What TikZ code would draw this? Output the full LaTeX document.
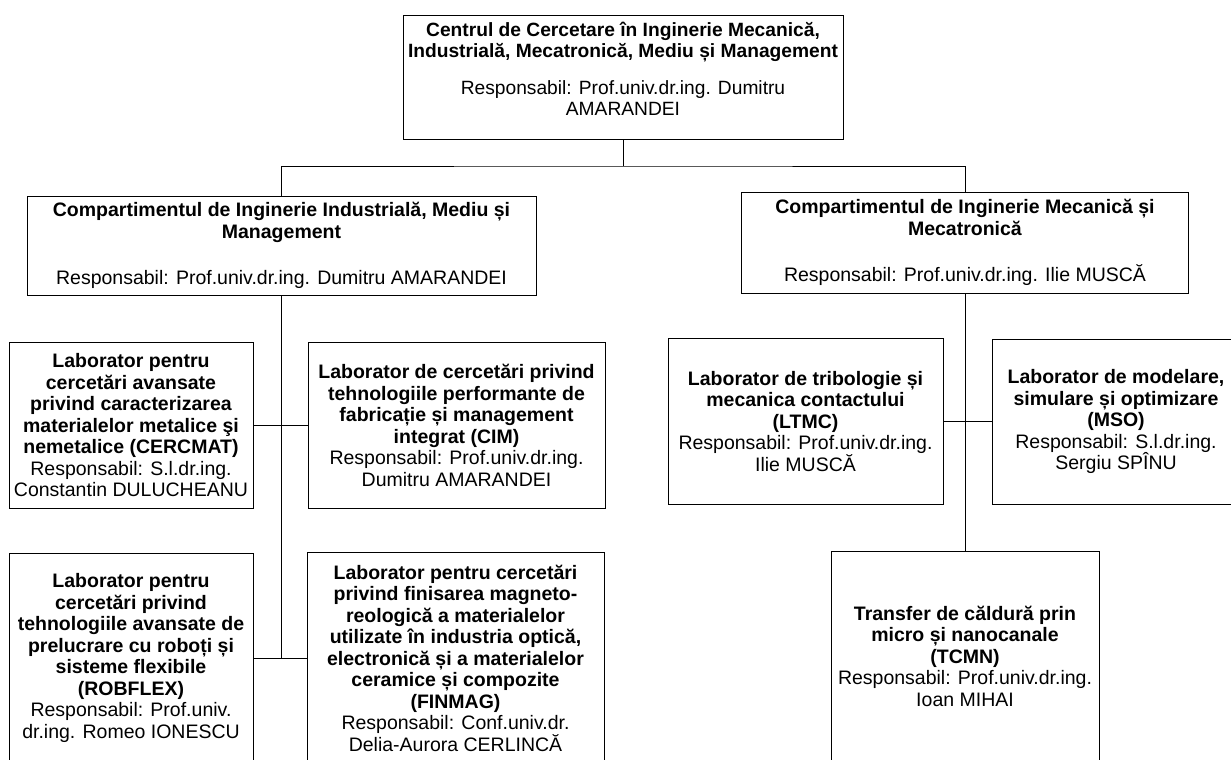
\documentclass[tikz,border=0pt]{standalone}
\usepackage{fontspec}
\setmainfont{Liberation Sans}
\usepackage{tikz}

\begin{document}
\begin{tikzpicture}[x=1pt, y=-1pt, line width=0.8pt,
	box/.style={draw, align=center, inner sep=1pt, font=\fontsize{19.5}{21.5}\selectfont}]
			\useasboundingbox (0,0) rectangle (1231,760);
			\node (top) at (623,77) [box, minimum width=440, minimum height=124, font=\fontsize{19.2}{21}\selectfont] {\textbf{Centrul de Cercetare în Inginerie Mecanică,}\\ \textbf{Industrială, Mecatronică, Mediu și Management}\\[16pt] Responsabil: Prof.univ.dr.ing. Dumitru\\ AMARANDEI\\[-5pt] \mbox{}};
			\node (indcomp) at (281.5,245.5) [box, minimum width=509, minimum height=99] {\textbf{Compartimentul de Inginerie Industrială, Mediu și}\\ \textbf{Management}\\[25pt] Responsabil: Prof.univ.dr.ing. Dumitru AMARANDEI};
			\node (meccomp) at (965,242.5) [box, minimum width=447, minimum height=101] {\textbf{Compartimentul de Inginerie Mecanică și}\\ \textbf{Mecatronică}\\[25pt] Responsabil: Prof.univ.dr.ing. Ilie MUSCĂ};
			\node (cercmat) at (131,425.5) [box, minimum width=244, minimum height=166] {\textbf{Laborator pentru}\\ \textbf{cercetări avansate}\\ \textbf{privind caracterizarea}\\ \textbf{materialelor metalice şi}\\ \textbf{nemetalice (CERCMAT)}\\ Responsabil: S.l.dr.ing.\\ Constantin DULUCHEANU};
			\node (cim) at (456.5,425.5) [box, minimum width=297, minimum height=166] {\textbf{Laborator de cercetări privind}\\ \textbf{tehnologiile performante de}\\ \textbf{fabricație și management}\\ \textbf{integrat (CIM)}\\ Responsabil: Prof.univ.dr.ing.\\ Dumitru AMARANDEI};
			\node (ltmc) at (805.5,421.5) [box, minimum width=275, minimum height=166] {\textbf{Laborator de tribologie și}\\ \textbf{mecanica contactului}\\ \textbf{(LTMC)}\\ Responsabil: Prof.univ.dr.ing.\\ Ilie MUSCĂ};
			\node (mso) at (1116,421.5) [box, minimum width=248, minimum height=165] {\textbf{Laborator de modelare,}\\ \textbf{simulare și optimizare}\\ \textbf{(MSO)}\\ Responsabil: S.l.dr.ing.\\ Sergiu SPÎNU};
			\node (robflex) at (131,658) [box, minimum width=244, minimum height=210] {\textbf{Laborator pentru}\\ \textbf{cercetări privind}\\ \textbf{tehnologiile avansate de}\\ \textbf{prelucrare cu roboți și}\\ \textbf{sisteme flexibile}\\ \textbf{(ROBFLEX)}\\ Responsabil: Prof.univ.\\ dr.ing. Romeo IONESCU};
			\node (finmag) at (455.5,658) [box, minimum width=297, minimum height=212] {\textbf{Laborator pentru cercetări}\\ \textbf{privind finisarea magneto-}\\ \textbf{reologică a materialelor}\\ \textbf{utilizate în industria optică,}\\ \textbf{electronică și a materialelor}\\ \textbf{ceramice și compozite}\\ \textbf{(FINMAG)}\\ Responsabil: Conf.univ.dr.\\ Delia-Aurora CERLINCĂ};
			\node (tcmn) at (965,656) [box, minimum width=268, minimum height=210] {\textbf{Transfer de căldură prin}\\ \textbf{micro și nanocanale}\\ \textbf{(TCMN)}\\ Responsabil: Prof.univ.dr.ing.\\ Ioan MIHAI};
			\coordinate (hub) at (623,166);
			\coordinate (ljoin) at (indcomp.south |- robflex.east);
			\draw (top) -- (hub);
			\draw (indcomp) |- (hub) -| (meccomp);
			\draw (indcomp) -- (ljoin);
			\draw (cercmat) -- (cim);
			\draw (robflex) -- (finmag);
			\draw (meccomp) -- (tcmn);
			\draw (ltmc) -- (mso);
		\end{tikzpicture}
\end{document}
